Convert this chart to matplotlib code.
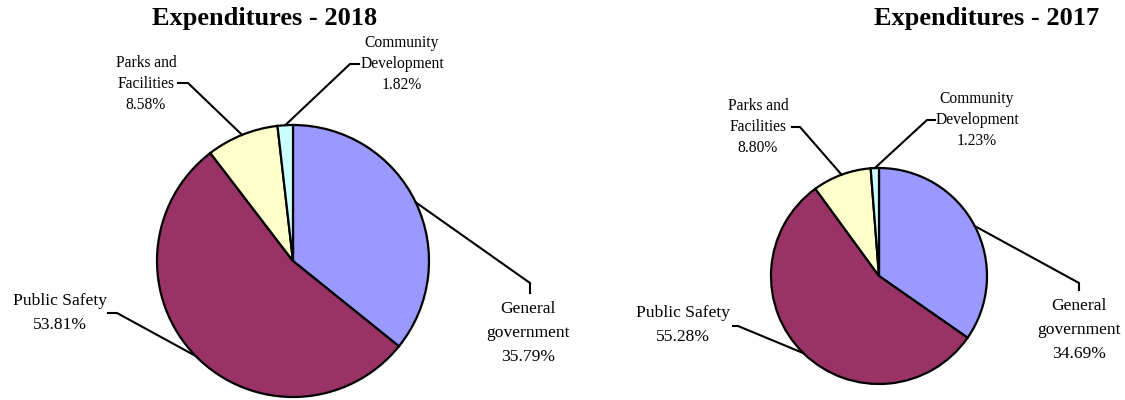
import matplotlib
matplotlib.use("Agg")
import numpy as np
from matplotlib import pyplot as plt

# ---- data ----
categories = ["General\ngovernment", "Public Safety", "Parks and\nFacilities", "Community\nDevelopment"]
share_2018 = [35.79, 53.81, 8.58, 1.82]
share_2017 = [34.69, 55.28, 8.80, 1.23]
colors = ["#9999FF", "#993366", "#FFFFCC", "#CCFFFF"]

W, H = 1125, 400
plt.rcParams['font.family'] = ['Liberation Serif', 'DejaVu Serif']

# layout in pixels (x from left, y from top)
# per label: text centre, font size, line spacing, leader points after the wedge anchor
charts = [
    dict(title="Expenditures - 2018", values=share_2018, title_x=265,
         center=(293, 261), radius=136,
         labels=[((528, 333), 12.6, 1.65, [(530, 283), (530, 293)]),
                 ((60, 313), 12.6, 1.65, [(117, 313), (108, 313)]),
                 ((146, 84), 11.2, 1.45, [(188, 83), (178, 83)]),
                 ((402, 64), 11.2, 1.45, [(350, 64), (359, 64)])]),
    dict(title="Expenditures - 2017", values=share_2017, title_x=987,
         center=(879, 276), radius=108,
         labels=[((1079, 330), 12.6, 1.65, [(1079, 283), (1079, 290)]),
                 ((683, 325), 12.6, 1.65, [(738, 326), (733, 326)]),
                 ((758, 127), 11.2, 1.45, [(800, 127), (792, 127)]),
                 ((977, 120), 11.2, 1.45, [(927, 120), (935, 120)])]),
]

fig = plt.figure(figsize=(W / 100, H / 100), dpi=100)
ax = fig.add_axes([0, 0, 1, 1])

for ch in charts:
    cx, cy = ch['center'][0], H - ch['center'][1]
    wedges, _ = ax.pie(ch['values'], colors=colors, startangle=90, counterclock=False,
                       center=(cx, cy), radius=ch['radius'],
                       wedgeprops=dict(edgecolor='black', linewidth=1.6))

    ax.text(ch['title_x'], H - 19, ch['title'], ha='center', va='center',
            fontsize=19, fontweight='bold')

    for w, cat, val, (tpos, fs, ls, pts) in zip(wedges, categories, ch['values'], ch['labels']):
        # leader starts on the rim at the middle of the wedge
        mid = np.deg2rad((w.theta1 + w.theta2) / 2)
        xs = [cx + ch['radius'] * np.cos(mid)] + [p[0] for p in pts]
        ys = [cy + ch['radius'] * np.sin(mid)] + [H - p[1] for p in pts]
        ax.plot(xs, ys, color='black', lw=1.5, solid_joinstyle='miter')
        ax.text(tpos[0], H - tpos[1], f"{cat}\n{val:.2f}%", ha='center', va='center',
                multialignment='center', fontsize=fs, linespacing=ls)

ax.set_xlim(0, W)
ax.set_ylim(0, H)
ax.set_aspect('equal')
ax.set_axis_off()

plt.savefig("out.png", dpi=100)
plt.close(fig)
